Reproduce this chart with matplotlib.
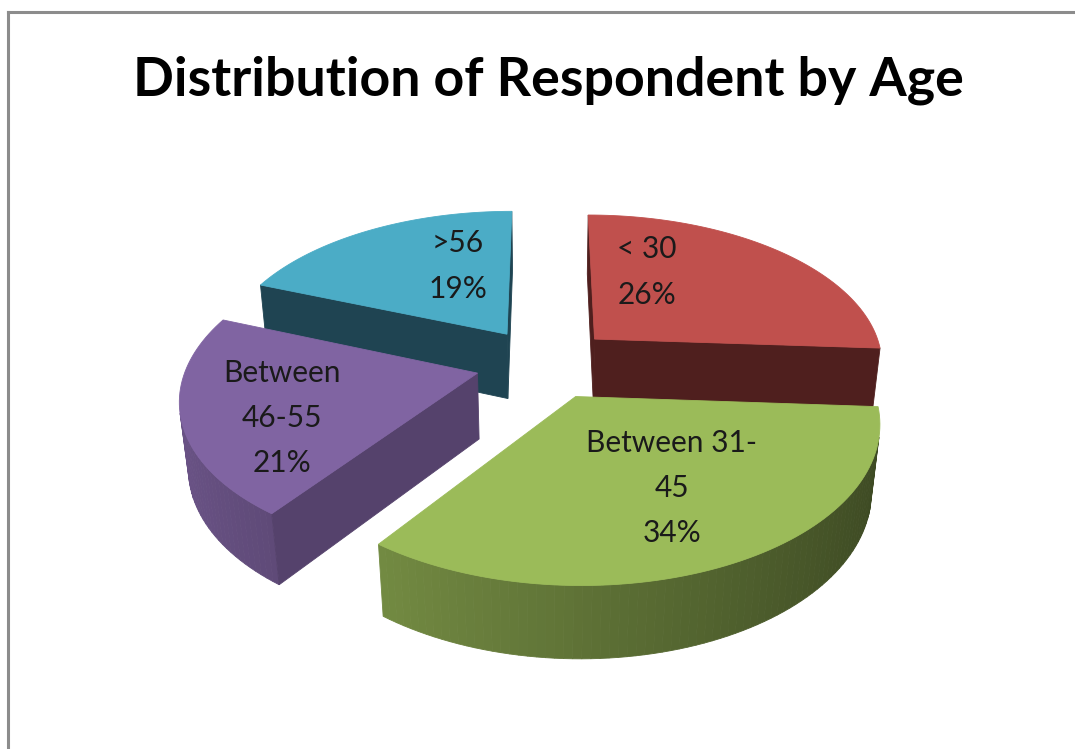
import numpy as np
import matplotlib.pyplot as plt
from matplotlib.patches import Polygon
from matplotlib.lines import Line2D
from matplotlib.colors import to_rgb

# data
labels = ['< 30', 'Between 31-\n45', 'Between\n46-55', '>56']
shares = [26, 34, 21, 19]

# styles
top_colors = ['#C0504D', '#9BBB59', '#8064A2', '#4BACC6']
cut_colors = ['#4F1F1E', '#3F4D24', '#55426C', '#1F4452']
label_px = [(647, 272), (672, 488), (282, 418), (458, 266)]

# 3d view (pie radius = 1)
elev = np.radians(31)
dist = 5.7
depth = 0.27
explode = 0.24
scale = 290.0
cx, cy = 545.0, 363.0
W, H = 1075, 749

cam = np.array([0.0, -dist * np.cos(elev), dist * np.sin(elev)])


def project(x, y, z):
    v = y * np.sin(elev) + z * np.cos(elev)
    w = -y * np.cos(elev) + z * np.sin(elev)
    s = dist / (dist - w)
    return x * s, v * s


def visible(normal, point):
    return np.dot(normal, cam - np.asarray(point)) > 0


def shade(color, f):
    r, g, b = to_rgb(color)
    return (r * f, g * f, b * f)


fig = plt.figure(figsize=(W / 100, H / 100), dpi=100)
ax = fig.add_axes([0, 0, 1, 1])
ax.set_xlim(-cx / scale, (W - cx) / scale)
ax.set_ylim(-(H - cy) / scale, cy / scale)
ax.axis('off')

fracs = np.array(shares) / np.sum(shares)
edges = np.concatenate([[0], np.cumsum(fracs)]) * 2 * np.pi

slices = []
for i in range(len(shares)):
    a0, a1 = edges[i], edges[i + 1]
    m = (a0 + a1) / 2
    ox, oy = explode * np.sin(m), explode * np.cos(m)
    slices.append((oy, i, a0, a1, ox))

# back to front
slices.sort(key=lambda t: -t[0])

for rank, (oy, i, a0, a1, ox) in enumerate(slices):
    col = top_colors[i]
    zorder = 10 + rank * 10
    n = max(int((a1 - a0) / (2 * np.pi) * 240), 8)
    t = np.linspace(a0, a1, n + 1)
    ex, ey = ox + np.sin(t), oy + np.cos(t)

    # outer curved wall
    for k in range(n):
        tm = (t[k] + t[k + 1]) / 2
        nrm = np.array([np.sin(tm), np.cos(tm), 0.0])
        pm = [ox + np.sin(tm), oy + np.cos(tm), -depth / 2]
        if not visible(nrm, pm):
            continue
        xs = [ex[k], ex[k + 1], ex[k + 1], ex[k]]
        ys = [ey[k], ey[k + 1], ey[k + 1], ey[k]]
        zs = [0, 0, -depth, -depth]
        u, v = project(np.array(xs), np.array(ys), np.array(zs))
        c = shade(col, 0.61 - 0.22 * np.sin(tm))
        ax.add_patch(Polygon(np.column_stack([u, v]), closed=True,
                             facecolor=c, edgecolor=c, lw=0.6, zorder=zorder))

    # radial cut faces
    for a, nrm in [(a0, np.array([-np.cos(a0), np.sin(a0), 0.0])),
                   (a1, np.array([np.cos(a1), -np.sin(a1), 0.0]))]:
        px, py = ox + np.sin(a), oy + np.cos(a)
        pm = [(ox + px) / 2, (oy + py) / 2, -depth / 2]
        if not visible(nrm, pm):
            continue
        xs = np.array([ox, px, px, ox])
        ys = np.array([oy, py, py, oy])
        zs = np.array([0, 0, -depth, -depth])
        u, v = project(xs, ys, zs)
        ax.add_patch(Polygon(np.column_stack([u, v]), closed=True,
                             facecolor=cut_colors[i], edgecolor=cut_colors[i],
                             lw=0.6, zorder=zorder + 1))

    # top face
    xs = np.concatenate([[ox], ex])
    ys = np.concatenate([[oy], ey])
    u, v = project(xs, ys, np.zeros_like(xs))
    ax.add_patch(Polygon(np.column_stack([u, v]), closed=True,
                         facecolor=col, edgecolor=col, lw=0.6, zorder=zorder + 2))

# data labels
for i, (lx, ly) in enumerate(label_px):
    ax.text((lx - cx) / scale, (cy - ly) / scale, f'{labels[i]}\n{shares[i]}%',
            ha='center', va='center', fontsize=21.5, family='Lato',
            color='#1a1a1a', linespacing=1.75, zorder=100)

# title, fitted to the reference width
title = fig.text(548 / W, 1 - 80 / H, 'Distribution of Respondent by Age',
                 ha='center', va='center', fontsize=40, family='Lato',
                 fontweight='bold', color='black')
r = fig.canvas.get_renderer()
tw = title.get_window_extent(r).width
title.set_fontsize(40 * 830 / tw)

# chart area border (top and left edges visible)
fig.add_artist(Line2D([7.5 / W, 1], [1 - 11.5 / H, 1 - 11.5 / H],
                      transform=fig.transFigure, color='#8c8c8c', lw=2.2))
fig.add_artist(Line2D([7.5 / W, 7.5 / W], [0, 1 - 11.5 / H],
                      transform=fig.transFigure, color='#8c8c8c', lw=2.2))

fig.savefig('out.png', dpi=100, facecolor='white')
